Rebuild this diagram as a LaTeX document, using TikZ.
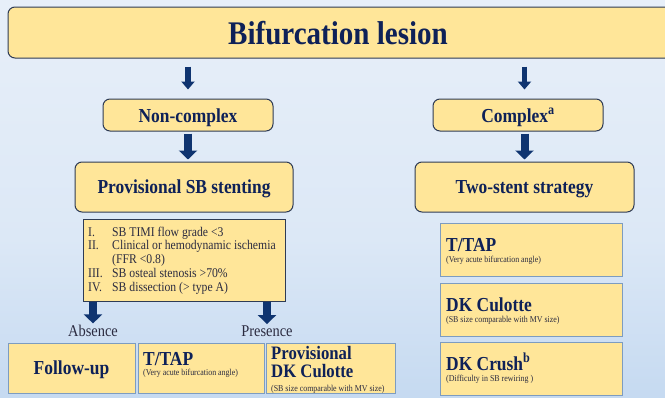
\documentclass[tikz,border=0pt]{standalone}
\usepackage{fontspec}
\setmainfont{Liberation Serif}[FakeStretch=0.88]
\usetikzlibrary{arrows.meta}
\definecolor{boxfill}{HTML}{FFE699}
\definecolor{rboxline}{HTML}{2E3B55}
\definecolor{sboxline}{HTML}{7D9CC0}
\definecolor{navy}{HTML}{0E2158}
\definecolor{subgray}{HTML}{2B2B40}
\definecolor{arrowblue}{HTML}{0F3470}
\definecolor{bgtop}{HTML}{F1F5FB}
\definecolor{bglight}{HTML}{DCE8F6}
\definecolor{bgmid}{HTML}{B9D2EE}
\definecolor{bgbot}{HTML}{CFE0F2}
\pgfdeclareverticalshading{bgshade}{100bp}{color(0bp)=(bgbot); color(14bp)=(bgmid); color(45bp)=(bglight); color(100bp)=(bgtop)}
\begin{document}
\begin{tikzpicture}[x=1pt,y=-1pt,
  rbox/.style={draw=rboxline, line width=1pt, fill=boxfill, rounded corners=7pt, inner sep=0pt},
  sbox/.style={draw=sboxline, line width=1pt, fill=boxfill, inner sep=0pt},
  btxt/.style={font=\bfseries\fontsize{19.8}{22}\selectfont, text=navy, inner sep=0pt, anchor=base},
  subtxt/.style={font=\fontsize{9}{10}\selectfont, text=subgray, inner sep=0pt, anchor=base west},
  crit/.style={font=\fontsize{13.3}{15}\selectfont, text=subgray, inner sep=0pt, anchor=base west},
  lbl/.style={font=\fontsize{16.4}{18}\selectfont, text=subgray, inner sep=0pt, anchor=base},
  arrS/.style={draw=arrowblue, line width=5.5pt, -{Triangle[width=13pt,length=8pt]}},
  arrL/.style={draw=arrowblue, line width=8pt, -{Triangle[width=18pt,length=9pt]}}]
\useasboundingbox (0,0) rectangle (665,397);
\clip (0,0) rectangle (665,397);
\shade[shading=bgshade] (0,0) rectangle (665,397);

% title
\node[rbox, minimum width=667pt, minimum height=51pt] (title) at (341.5,32.5) {};
\node[btxt, font=\bfseries\fontsize{33}{36}\selectfont] (titletext) at (338,44) {Bifurcation lesion};

% level 2
\node[rbox, minimum width=170pt, minimum height=32pt] (nc) at (188,115) {};
\node[btxt] (nctext) at (188,122) {Non-complex};
\node[rbox, minimum width=170pt, minimum height=32pt] (cx) at (518,115) {};
\node[btxt] (cxtext) at (518,122) {Complex\textsuperscript{a}};

% level 3
\node[rbox, minimum width=218pt, minimum height=50pt] (ps) at (184,187) {};
\node[btxt] (pstext) at (184,193) {Provisional SB stenting};
\node[rbox, minimum width=219pt, minimum height=50pt] (ts) at (524.5,187) {};
\node[btxt] (tstext) at (524.5,193) {Two-stent strategy};

% arrows
\draw[arrS] ([yshift=-8pt]nc.north |- title.south) -- ([yshift=9pt]nc.north);
\draw[arrS] ([yshift=-8pt]ts.north |- title.south) -- ([yshift=9pt]ts.north |- cx.north);
\draw[arrL] ([yshift=-2pt]nc.south) -- ([yshift=2pt]nc.south |- ps.north);
\draw[arrL] ([yshift=-2pt]ts.north |- cx.south) -- ([yshift=2pt]ts.north);

% criteria
\node[sbox, draw=rboxline, minimum width=202pt, minimum height=82pt] (crit) at (184,260) {};
\node[crit] (c1n) at (88,236) {I.};
\node[crit] (c1) at (112,236) {SB TIMI flow grade <3};
\node[crit] (c2n) at (88,249.5) {II.};
\node[crit] (c2) at (112,249.5) {Clinical or hemodynamic ischemia};
\node[crit] (c2b) at (112,263) {(FFR <0.8)};
\node[crit] (c3n) at (88,277) {III.};
\node[crit] (c3) at (112,277) {SB osteal stenosis >70\%};
\node[crit] (c4n) at (88,291) {IV.};
\node[crit] (c4) at (112,291) {SB dissection (> type A)};

% absence / presence
\node[lbl] (absence) at (93,336) {Absence};
\node[lbl] (presence) at (267,336) {Presence};
\draw[arrL] (crit.south -| absence.north) -- ([yshift=1pt]absence.north);
\draw[arrL] (crit.south -| presence.north) -- ([yshift=1pt]presence.north);

% bottom boxes
\node[sbox, minimum width=127pt, minimum height=50pt] (fu) at (71.5,368) {};
\node[btxt] (futext) at (71.5,374) {Follow-up};
\node[sbox, minimum width=126pt, minimum height=50pt] (tt1) at (201,368) {};
\node[btxt, anchor=base west] (tt1text) at (143,365) {T/TAP};
\node[subtxt] (tt1sub) at (143,375) {(Very acute bifurcation angle)};
\node[sbox, minimum width=129pt, minimum height=50pt] (pdk) at (330.5,368) {};
\node[btxt, anchor=base west, font=\bfseries\fontsize{19}{20}\selectfont] (pdktext) at (271,359) {Provisional};
\node[btxt, anchor=base west, font=\bfseries\fontsize{19}{20}\selectfont] (pdktext2) at (271,377.5) {DK Culotte};
\node[subtxt] (pdksub) at (271,391) {(SB size comparable with MV size)};

% right column
\node[sbox, minimum width=182pt, minimum height=53pt] (tt2) at (531,249.5) {};
\node[btxt, anchor=base west] (tt2text) at (446,251) {T/TAP};
\node[subtxt] (tt2sub) at (446,262) {(Very acute bifurcation angle)};
\node[sbox, minimum width=182pt, minimum height=53pt] (dkc) at (531,309.5) {};
\node[btxt, anchor=base west] (dkctext) at (446,311) {DK Culotte};
\node[subtxt] (dkcsub) at (446,322) {(SB size comparable with MV size)};
\node[sbox, minimum width=182pt, minimum height=53pt] (dkr) at (531,369) {};
\node[btxt, anchor=base west] (dkrtext) at (446,370) {DK Crush\textsuperscript{b}};
\node[subtxt] (dkrsub) at (446,381) {(Difficulty in SB rewiring )};
\end{tikzpicture}
\end{document}
